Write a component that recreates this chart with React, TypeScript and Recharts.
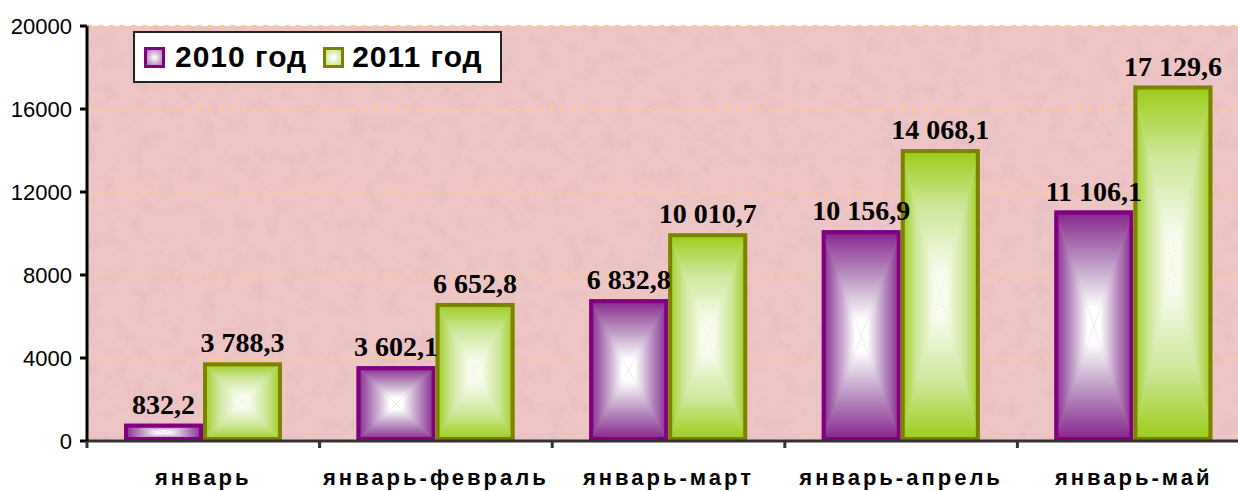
import React from 'react';
import {
    BarChart,
    Bar,
    XAxis,
    YAxis,
    CartesianGrid,
    Legend,
    LabelList,
} from 'recharts';

const periods = ['январь', 'январь-февраль', 'январь-март', 'январь-апрель', 'январь-май'];
const values2010 = [832.2, 3602.1, 6832.8, 10156.9, 11106.1];
const values2011 = [3788.3, 6652.8, 10010.7, 14068.1, 17129.6];
const yTicks = [0, 4000, 8000, 12000, 16000, 20000];
const seriesNames = ['2010 год', '2011 год'];

const data = periods.map((name, i) => ({
    name,
    y2010: values2010[i],
    y2011: values2011[i],
}));

// "14068.1" -> "14 068,1"
const fmt = (v: any) => {
    const [int, dec] = Number(v).toFixed(1).split('.');
    return int.replace(/\B(?=(\d{3})+(?!\d))/g, ' ') + ',' + dec;
};

const sides: Array<[string, any]> = [
    ['t', { x1: 0, y1: 0, x2: 0, y2: 1 }],
    ['b', { x1: 0, y1: 1, x2: 0, y2: 0 }],
    ['l', { x1: 0, y1: 0, x2: 1, y2: 0 }],
    ['r', { x1: 1, y1: 0, x2: 0, y2: 0 }],
];

const palettes: Record<string, string[]> = {
    pur: ['#86208C', '#B48BBC', '#FFFFFF'],
    grn: ['#9ACC14', '#CDE79A', '#F8FCEE'],
};

const gradientDefs = Object.keys(palettes).flatMap((id) =>
    sides.map(([s, dir]) => (
        <linearGradient key={id + s} id={`${id}-${s}`} {...dir}>
            <stop offset="0" stopColor={palettes[id][0]} />
            <stop offset="0.4" stopColor={palettes[id][1]} />
            <stop offset="0.85" stopColor={palettes[id][2]} />
        </linearGradient>
    ))
);

// excel-like "from center" rectangular gradient
const BoxBar = (props: any) => {
    const { x, y, width, height, gid, edge } = props;
    if (!height || height <= 0) return null;
    const x2 = x + width;
    const y2 = y + height;
    const cx = x + width / 2;
    const cy = y + height / 2;
    return (
        <g>
            <rect x={x} y={y} width={width} height={height} fill={palettes[gid][1]} />
            <polygon points={`${x},${y} ${x2},${y} ${cx},${cy}`} fill={`url(#${gid}-t)`} />
            <polygon points={`${x},${y2} ${x2},${y2} ${cx},${cy}`} fill={`url(#${gid}-b)`} />
            <polygon points={`${x},${y} ${x},${y2} ${cx},${cy}`} fill={`url(#${gid}-l)`} />
            <polygon points={`${x2},${y} ${x2},${y2} ${cx},${cy}`} fill={`url(#${gid}-r)`} />
            <rect
                x={x + 2}
                y={y + 2}
                width={Math.max(width - 4, 0)}
                height={Math.max(height - 4, 0)}
                fill="none"
                stroke={edge}
                strokeWidth={4}
            />
        </g>
    );
};

const CatTick = (props: any) => {
    const { x, y, payload } = props;
    const off = payload && payload.offset ? payload.offset : 0;
    return (
        <g>
            <line x1={x - off} x2={x - off} y1={y} y2={y + 7} stroke="#333" strokeWidth={3} />
            <text
                x={x}
                y={y + 44}
                textAnchor="middle"
                fontFamily="'Liberation Sans', Arial, sans-serif"
                fontWeight="bold"
                fontSize={22}
                letterSpacing={3}
                fill="#000"
            >
                {payload.value}
            </text>
        </g>
    );
};

const LegendIcon = ({ gid, edge }: { gid: string; edge: string }) => (
    <svg width={21} height={21} style={{ display: 'block' }}>
        <defs>
            <radialGradient id={`leg-${gid}`}>
                <stop offset="0" stopColor="#FFFFFF" />
                <stop offset="1" stopColor={palettes[gid][1]} />
            </radialGradient>
        </defs>
        <rect x={1.5} y={1.5} width={18} height={18} fill={`url(#leg-${gid})`} stroke={edge} strokeWidth={3} />
    </svg>
);

const LegendBox = () => (
    <div
        style={{
            display: 'flex',
            alignItems: 'center',
            background: '#fff',
            border: '2px solid #222',
            width: 365,
            height: 48,
            boxSizing: 'content-box',
            fontFamily: "'Liberation Sans', Arial, sans-serif",
            fontWeight: 'bold',
            fontSize: 30,
            letterSpacing: 1,
            color: '#000',
            whiteSpace: 'nowrap',
        }}
    >
        <div style={{ marginLeft: 9 }}>
            <LegendIcon gid="pur" edge="#800080" />
        </div>
        <span style={{ marginLeft: 10 }}>{seriesNames[0]}</span>
        <div style={{ marginLeft: 16 }}>
            <LegendIcon gid="grn" edge="#808000" />
        </div>
        <span style={{ marginLeft: 8 }}>{seriesNames[1]}</span>
    </div>
);

const labelStyle = {
    fontFamily: "'Liberation Serif', 'Times New Roman', serif",
    fontWeight: 'bold',
    fontSize: 28,
    fill: '#000',
};

export default function App() {
    return (
        <div
            style={{
                position: 'absolute',
                left: 0,
                top: 0,
                width: 1238,
                height: 491,
                overflow: 'hidden',
                background: '#fff',
            }}
        >
            <BarChart
                width={1250}
                height={491}
                data={data}
                margin={{ top: 26, right: 0, left: 0, bottom: 0 }}
                barSize={79}
                barGap={0}
            >
                <defs>
                    {gradientDefs}
                    <filter id="grain" x="0" y="0" width="100%" height="100%">
                        <feTurbulence type="fractalNoise" baseFrequency="0.06" numOctaves={4} seed={3} />
                        <feColorMatrix
                            type="matrix"
                            values="0 0 0 0 0.62  0 0 0 0 0.42  0 0 0 0 0.44  1.4 0 0 0 -0.62"
                        />
                    </filter>
                    <pattern id="bgtex" patternUnits="userSpaceOnUse" x={0} y={0} width={1250} height={491}>
                        <rect x={0} y={0} width={1250} height={491} fill="#EEC5C5" />
                        <rect x={0} y={0} width={1250} height={491} filter="url(#grain)" opacity={0.45} />
                    </pattern>
                </defs>
                <CartesianGrid
                    vertical={false}
                    fill="url(#bgtex)"
                    fillOpacity={1}
                    stroke="#FFC88C"
                    strokeWidth={2}
                    strokeDasharray="5 6"
                />
                <XAxis
                    dataKey="name"
                    height={50}
                    interval={0}
                    tickSize={0}
                    tickMargin={0}
                    tickLine={false}
                    axisLine={{ stroke: '#333', strokeWidth: 3 }}
                    tick={<CatTick />}
                />
                <YAxis
                    width={87}
                    domain={[0, 20000]}
                    ticks={yTicks}
                    interval={0}
                    tickSize={7}
                    tickMargin={8}
                    axisLine={{ stroke: '#000', strokeWidth: 3 }}
                    tickLine={{ stroke: '#000', strokeWidth: 3 }}
                    tick={{
                        fontFamily: "'Liberation Sans', Arial, sans-serif",
                        fontSize: 22,
                        fill: '#000',
                    }}
                />
                <Legend
                    layout="horizontal"
                    verticalAlign="middle"
                    content={<LegendBox />}
                    wrapperStyle={{ position: 'absolute', top: 31, left: 133, width: 'auto', height: 'auto' }}
                />
                <Bar
                    dataKey="y2010"
                    name={seriesNames[0]}
                    fill="#800080"
                    isAnimationActive={false}
                    shape={(p: any) => <BoxBar {...p} gid="pur" edge="#800080" />}
                >
                    <LabelList dataKey="y2010" position="top" offset={10} formatter={fmt} style={labelStyle} />
                </Bar>
                <Bar
                    dataKey="y2011"
                    name={seriesNames[1]}
                    fill="#99CC00"
                    isAnimationActive={false}
                    shape={(p: any) => <BoxBar {...p} gid="grn" edge="#808000" />}
                >
                    <LabelList dataKey="y2011" position="top" offset={10} formatter={fmt} style={labelStyle} />
                </Bar>
            </BarChart>
        </div>
    );
}
